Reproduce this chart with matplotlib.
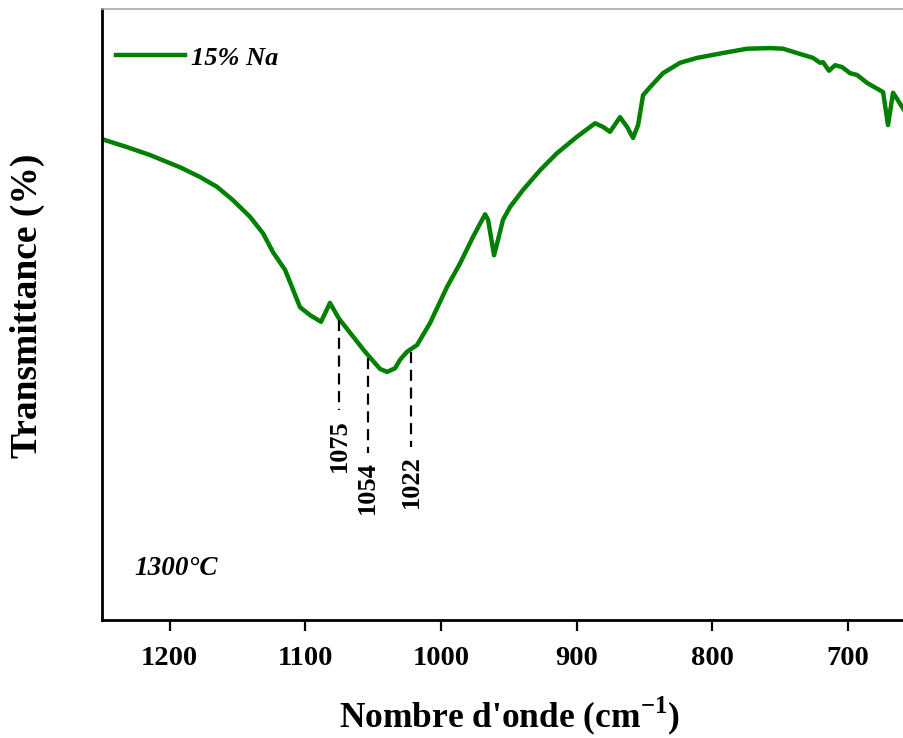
import matplotlib.pyplot as plt

# FTIR spectrum, 15% Na sample fired at 1300°C
wavenumber = [1250.0, 1231.6, 1214.6, 1192.5, 1177.7, 1165.2, 1153.4, 1140.9, 1131.3, 1123.9,
              1115.0, 1109.9, 1104.0, 1096.6, 1088.5, 1081.9, 1076.0, 1074.5, 1065.6, 1056.0,
              1050.9, 1045.0, 1039.8, 1033.9, 1030.2, 1025.1, 1017.7, 1008.1, 995.6, 985.9,
              976.4, 967.5, 965.3, 960.9, 958.0, 954.3, 949.1, 939.5, 927.0, 914.5,
              899.7, 886.4, 880.5, 875.4, 868.0, 862.8, 858.4, 854.7, 851.0, 845.9,
              836.3, 823.7, 811.2, 792.0, 774.3, 757.4, 747.8, 737.5, 725.7, 720.5,
              718.3, 713.9, 709.4, 704.3, 698.4, 693.2, 685.8, 674.0, 670.4, 666.7, 658.6]
transmittance = [78.7, 77.4, 76.1, 74.1, 72.5, 70.9, 68.7, 66.0, 63.3, 60.2,
                 57.3, 54.5, 51.2, 49.9, 48.8, 51.9, 49.6, 49.1, 46.6, 43.9,
                 42.6, 41.1, 40.6, 41.2, 42.6, 43.9, 45.0, 48.6, 54.5, 58.4,
                 62.7, 66.4, 65.5, 59.7, 62.2, 65.5, 67.6, 70.4, 73.6, 76.4,
                 79.1, 81.3, 80.7, 79.9, 82.3, 80.7, 78.9, 81.0, 85.9, 87.2,
                 89.5, 91.2, 92.0, 92.8, 93.5, 93.6, 93.5, 92.8, 92.0, 91.2,
                 91.3, 89.9, 90.8, 90.5, 89.5, 89.2, 87.9, 86.4, 81.0, 86.3, 83.5]

# marked bands: position, where the dashed line ends, where the label starts
band_pos = [1075, 1054, 1022]
band_top = [49.1, 42.9, 43.9]
band_end = [34.4, 27.3, 28.3]
band_text = [32.8, 26.0, 27.0]

plt.rcParams['font.family'] = 'Liberation Serif'
plt.rcParams['font.weight'] = 'bold'
plt.rcParams['mathtext.fontset'] = 'custom'
plt.rcParams['mathtext.rm'] = 'Liberation Serif'
plt.rcParams['mathtext.bf'] = 'Liberation Serif:bold'

fig = plt.figure(figsize=(9.04, 7.38), dpi=100)
ax = fig.add_axes([102 / 904, 118 / 738, 802 / 904, 611 / 738])

ax.plot(wavenumber, transmittance, color='#008000', lw=3.2, label='15% Na')

for pos, top, end, txt in zip(band_pos, band_top, band_end, band_text):
    ax.plot([pos, pos], [top, end], color='black', lw=1.6, linestyle=(0, (5, 3)))
    ax.text(pos, txt, str(pos), rotation=90, ha='center', va='top',
            fontsize=19, fontweight='bold')

ax.text(0.04, 0.085, '1300°C', transform=ax.transAxes, fontsize=19.5,
        fontweight='bold', fontstyle='italic', va='center')

ax.legend(loc='upper left', bbox_to_anchor=(-0.012, 0.978), frameon=False,
          handlelength=2.6, handletextpad=0.25,
          prop={'size': 19, 'weight': 'bold', 'style': 'italic'})

ax.set_xlim(1250, 658.6)
ax.set_ylim(0, 100)
ax.set_xticks([1200, 1100, 1000, 900, 800, 700])
ax.set_yticks([])
ax.tick_params(axis='x', direction='out', length=8, width=1.6, labelsize=20.5, pad=11)

ax.spines['left'].set_linewidth(2)
ax.spines['bottom'].set_linewidth(2)
ax.spines['top'].set_linewidth(1.2)
ax.spines['top'].set_color('#a8a8a8')
ax.spines['right'].set_visible(False)

ax.set_xlabel("Nombre d'onde (cm$^{\\mathbf{-1}}$)", fontsize=25.5, fontweight='bold')
ax.xaxis.set_label_coords(0.5075, -0.122)
ax.set_ylabel('Transmittance (%)', fontsize=27, fontweight='bold')
ax.yaxis.set_label_coords(-0.071, 0.514)

fig.savefig('out.png', dpi=100)
